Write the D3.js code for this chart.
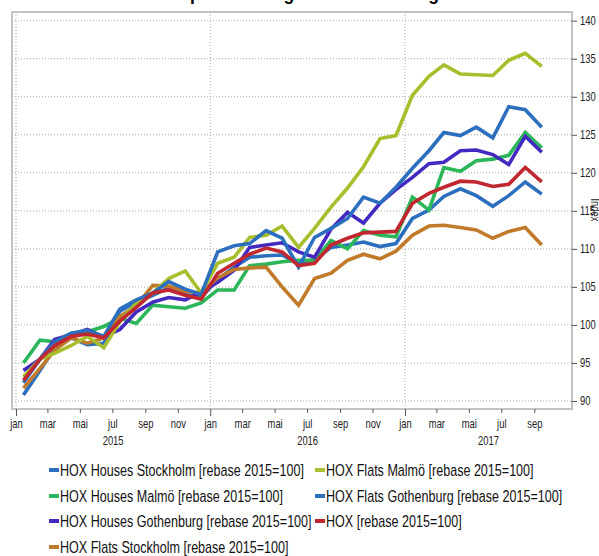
<!DOCTYPE html>
<html>
<head>
<meta charset="utf-8">
<script src="https://cdn.jsdelivr.net/npm/d3@7"></script>
<style>
  body { margin: 0; background: #fff; }
  text { font-family: "Liberation Sans", Arial, sans-serif; }
</style>
</head>
<body>
<div id="chart"></div>
<script>
// Monthly observations, Jan 2015 - Sep 2017
var months = [];
for (var m = 0; m < 33; m++) months.push(new Date(Date.UTC(2015, m, 15)));

var seriesNames = [
  "HOX Houses Stockholm [rebase 2015=100]",
  "HOX Houses Malmö [rebase 2015=100]",
  "HOX Houses Gothenburg [rebase 2015=100]",
  "HOX Flats Stockholm [rebase 2015=100]",
  "HOX Flats Malmö [rebase 2015=100]",
  "HOX Flats Gothenburg [rebase 2015=100]",
  "HOX [rebase 2015=100]"
];
var colors = ["#2c6fbe", "#2bb65a", "#4329bf", "#c07a2a", "#a8be2c", "#2c6fbe", "#c1272e"];

var housesStockholm = [90.8, 94.0, 97.0, 98.3, 97.4, 97.6, 101.8, 103.0, 103.9, 104.9, 104.0, 103.6,
  106.0, 107.6, 108.9, 109.1, 109.2, 108.0, 108.6, 110.2, 110.5, 110.9, 110.3, 110.7,
  114.0, 115.1, 116.9, 117.9, 117.0, 115.6, 117.0, 118.8, 117.2];
var housesMalmo = [95.0, 98.0, 97.8, 98.9, 99.1, 99.8, 100.9, 100.2, 102.6, 102.4, 102.2, 102.9,
  104.6, 104.6, 107.8, 108.0, 108.3, 108.5, 108.5, 111.1, 110.0, 112.4, 111.8, 111.6,
  116.8, 115.1, 120.7, 120.2, 121.6, 121.8, 122.3, 125.3, 123.3];
var housesGothenburg = [94.0, 95.5, 98.1, 98.7, 99.4, 98.4, 99.4, 101.7, 103.0, 103.6, 103.3, 104.3,
  105.6, 107.2, 110.2, 110.5, 110.8, 109.6, 108.9, 112.6, 114.8, 113.4, 116.0, 117.8,
  119.4, 121.2, 121.4, 122.9, 123.0, 122.4, 121.1, 124.8, 122.7];
var flatsStockholm = [91.7, 94.3, 96.7, 98.3, 97.6, 98.3, 101.1, 102.5, 105.2, 105.1, 104.4, 104.2,
  106.2, 107.3, 107.5, 107.6, 105.0, 102.6, 106.1, 106.8, 108.5, 109.3, 108.7, 109.7,
  111.8, 113.0, 113.1, 112.8, 112.5, 111.4, 112.3, 112.8, 110.5];
var flatsMalmo = [93.2, 95.5, 96.3, 97.3, 98.5, 97.0, 100.4, 102.9, 104.2, 106.1, 107.1, 104.2,
  108.1, 108.9, 111.5, 111.8, 113.0, 110.2, 112.7, 115.5, 118.0, 120.8, 124.5, 124.9,
  130.2, 132.7, 134.2, 133.0, 132.9, 132.8, 134.8, 135.7, 134.0];
var flatsGothenburg = [92.4, 95.5, 97.8, 98.9, 99.3, 98.5, 102.1, 103.3, 104.2, 105.7, 104.7, 104.0,
  109.6, 110.4, 110.7, 112.4, 111.4, 107.6, 111.5, 112.7, 114.0, 116.8, 116.0, 118.1,
  120.6, 122.9, 125.3, 124.9, 126.0, 124.6, 128.7, 128.3, 126.0];
var hox = [92.7, 95.5, 97.3, 98.5, 98.8, 98.3, 100.5, 102.3, 104.2, 104.6, 103.9, 103.4,
  106.8, 108.1, 109.3, 110.1, 109.6, 107.8, 108.1, 110.5, 111.4, 112.1, 112.2, 112.3,
  116.0, 117.3, 118.1, 118.9, 118.8, 118.2, 118.5, 120.7, 118.8];

var yTicks = [90, 95, 100, 105, 110, 115, 120, 125, 130, 135, 140];
var monthLabels = ["jan", "feb", "mar", "apr", "mai", "jun", "jul", "aug", "sep", "okt", "nov", "des"];
var years = [2015, 2016, 2017];

var allSeries = [housesStockholm, housesMalmo, housesGothenburg, flatsStockholm, flatsMalmo, flatsGothenburg, hox];

var width = 599, height = 556;
var frame = { left: 12, right: 572, top: 12, bottom: 409 };

var svg = d3.select("#chart")
  .append("svg")
    .attr("width", width)
    .attr("height", height);

// No narrow font installed: measure Liberation Sans and squeeze it horizontally
var probe = svg.append("text").style("font-size", "16px").text(seriesNames[0]);
var k = 244 / probe.node().getComputedTextLength();
probe.remove();

// place a narrow text at (px, py)
function narrow(sel, px, py) {
  sel.attr("x", 0).attr("y", 0)
    .attr("transform", "translate(" + px + "," + py + ") scale(" + k + ",1)");
}

// Title (cut off at the top in the original)
svg.append("text")
  .attr("x", 297)
  .attr("y", 0)
  .attr("text-anchor", "middle")
  .style("font-weight", "bold")
  .style("font-size", "17.5px")
  .text("HOX: House prices in regions and housing markets");

// Scales
var x = d3.scaleUtc()
  .domain([new Date(Date.UTC(2015, 0, 1)), new Date(Date.UTC(2017, 0, 1))])
  .range([16, 405]);

var y = d3.scaleLinear()
  .domain([90, 140])
  .range([401, 20.7]);

// Grid
var grid = svg.append("g").attr("class", "grid");
grid.selectAll("line.h")
  .data(yTicks)
  .enter().append("line")
    .attr("x1", frame.left)
    .attr("x2", frame.right)
    .attr("y1", function(d) { return y(d); })
    .attr("y2", function(d) { return y(d); })
    .attr("stroke", "#a8a8a8")
    .attr("stroke-width", 1)
    .attr("stroke-dasharray", "1,2");

grid.selectAll("line.v")
  .data(years.map(function(yr) { return new Date(Date.UTC(yr, 0, 1)); }))
  .enter().append("line")
    .attr("x1", function(d) { return x(d); })
    .attr("x2", function(d) { return x(d); })
    .attr("y1", frame.top)
    .attr("y2", frame.bottom)
    .attr("stroke", "#a8a8a8")
    .attr("stroke-width", 1)
    .attr("stroke-dasharray", "1,2");

// Frame
svg.append("rect")
  .attr("x", frame.left)
  .attr("y", frame.top)
  .attr("width", frame.right - frame.left)
  .attr("height", frame.bottom - frame.top)
  .attr("fill", "none")
  .attr("stroke", "#b0b0b0")
  .attr("stroke-width", 1.5);

// Right axis
var yAxis = svg.append("g")
  .attr("transform", "translate(" + frame.right + ",0)")
  .call(d3.axisRight(y).tickValues(yTicks).tickSize(5).tickPadding(3));
yAxis.select(".domain").remove();
yAxis.selectAll(".tick line").attr("stroke", "#555");
yAxis.selectAll(".tick text")
  .style("font-size", "12px")
  .attr("fill", "#222")
  .each(function() { narrow(d3.select(this), 8, 0); });

var indexLabel = svg.append("text")
  .attr("text-anchor", "middle")
  .style("font-size", "12px")
  .attr("fill", "#222")
  .text("Index");
indexLabel.attr("transform", "translate(591,210) rotate(90) scale(" + k + ",1)");

// Bottom axis: month ticks every two months, longer at year starts
var monthTicks = d3.utcMonth.range(new Date(Date.UTC(2015, 0, 1)), new Date(Date.UTC(2017, 9, 1)), 2);
var xAxis = svg.append("g")
  .attr("transform", "translate(0," + frame.bottom + ")")
  .call(d3.axisBottom(x)
    .tickValues(monthTicks)
    .tickSize(4)
    .tickPadding(5)
    .tickFormat(function(d) { return monthLabels[d.getUTCMonth()]; }));
xAxis.select(".domain").remove();
xAxis.selectAll(".tick line")
  .attr("stroke", "#555")
  .attr("y2", function(d) { return d.getUTCMonth() === 0 ? 7 : 4; });
xAxis.selectAll(".tick text")
  .style("font-size", "12px")
  .attr("fill", "#222")
  .attr("dy", null)
  .each(function() { narrow(d3.select(this), 0, 19); });

// Year labels centred on the visible part of each year
svg.selectAll("text.year")
  .data(years)
  .enter().append("text")
    .attr("class", "year")
    .attr("text-anchor", "middle")
    .style("font-size", "12px")
    .attr("fill", "#222")
    .text(function(yr) { return yr; })
    .each(function(yr) {
      var a = Math.max(x(new Date(Date.UTC(yr, 0, 1))), frame.left + 4);
      var b = Math.min(x(new Date(Date.UTC(yr + 1, 0, 1))), frame.right);
      narrow(d3.select(this), (a + b) / 2, 445);
    });

// Lines
var line = d3.line()
  .x(function(d, i) { return x(months[i]); })
  .y(function(d) { return y(d); });

svg.selectAll("path.series")
  .data(allSeries)
  .enter().append("path")
    .attr("class", "series")
    .attr("d", line)
    .attr("fill", "none")
    .attr("stroke", function(d, i) { return colors[i]; })
    .attr("stroke-width", 3.6)
    .attr("stroke-linejoin", "miter");

// Legend
var legendPos = [
  [48, 470], [48, 496], [48, 521], [48, 547],
  [314, 470], [314, 496], [314, 521]
];
var legend = svg.selectAll("g.legend")
  .data(seriesNames)
  .enter().append("g")
    .attr("class", "legend")
    .attr("transform", function(d, i) { return "translate(" + legendPos[i][0] + "," + legendPos[i][1] + ")"; });
legend.append("line")
  .attr("x1", 1).attr("x2", 11)
  .attr("y1", 0).attr("y2", 0)
  .attr("stroke", function(d, i) { return colors[i]; })
  .attr("stroke-width", 4);
legend.append("text")
  .style("font-size", "16px")
  .attr("fill", "#111")
  .text(function(d) { return d; })
  .each(function() { narrow(d3.select(this), 12, 6); });
</script>
</body>
</html>
